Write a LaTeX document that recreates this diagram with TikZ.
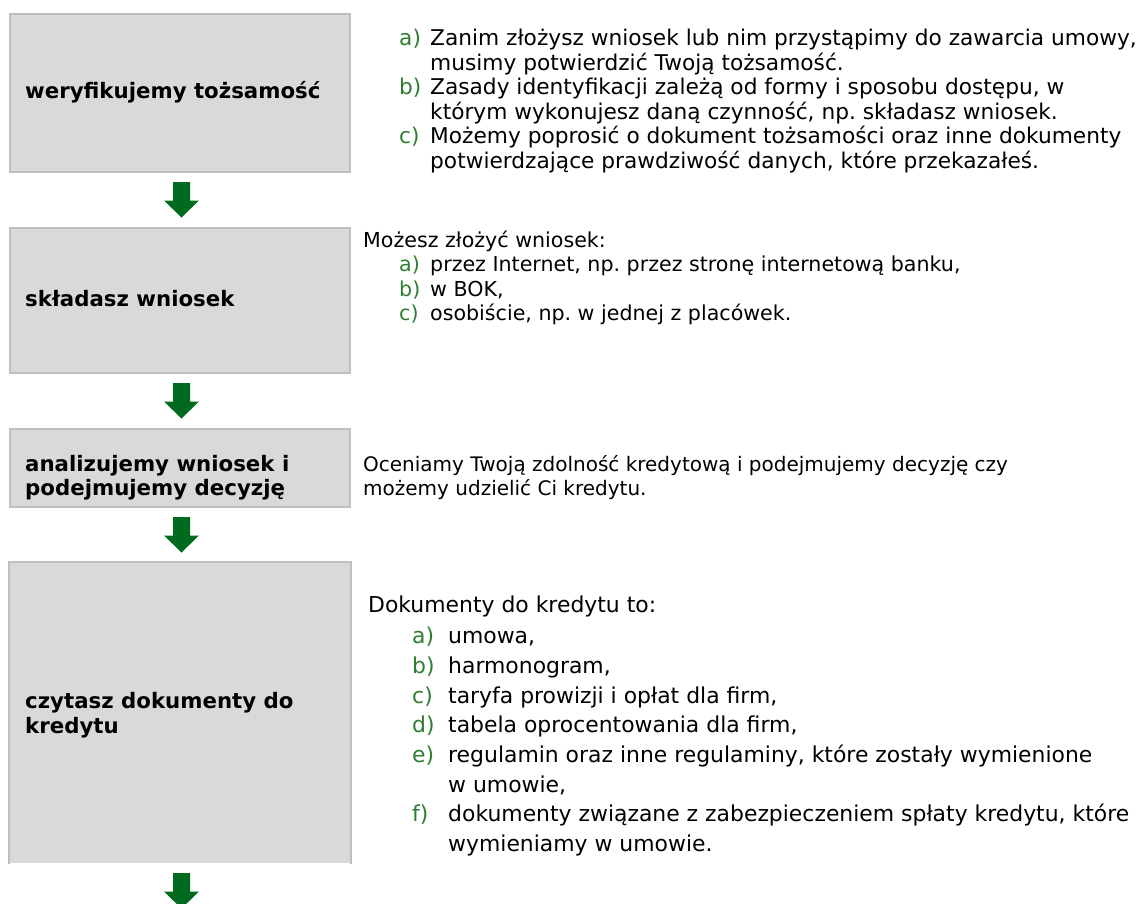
\documentclass[tikz,border=0pt]{standalone}
\usepackage{fontspec}
\setmainfont{DejaVu Sans}
\usetikzlibrary{calc}
\definecolor{boxfill}{HTML}{D9D9D9}
\definecolor{boxline}{HTML}{BFBFBF}
\definecolor{arrowgreen}{HTML}{006A1E}
\definecolor{labgreen}{HTML}{2E7D32}
\frenchspacing
\newcommand\txtline[4]{\node[txt] (#1) at (#2,#3) {#4};}
\newcommand\lab[4]{\node[lbl] (#1) at (#2,#3) {#4};}
\newcommand\greenarrow[2]{%
  \coordinate (#2) at ($(#1.south)+(1.5,9)$);
  \fill[arrowgreen] ($(#2)+(-8.5,0)$) -- ++(17,0) -- ++(0,18.5) -- ++(9,0)
    -- ($(#2)+(0,35.5)$) -- ($(#2)+(-17.5,18.5)$) -- ++(9,0) -- cycle;}
\begin{document}
\begin{tikzpicture}[x=1pt,y=-1pt,
  box/.style={fill=boxfill, draw=boxline, line width=2pt, anchor=north west,
    minimum width=340pt, inner sep=0pt},
  boxtxt/.style={anchor=base west, inner sep=0pt, font=\fontsize{21.3}{24.5}\selectfont\bfseries},
  txt/.style={anchor=base west, inner sep=0pt},
  lbl/.style={txt, text=labgreen},
  fa/.style={font=\fontsize{21.7}{24}\selectfont},
  fb/.style={font=\fontsize{20.6}{24}\selectfont},
  fc/.style={font=\fontsize{20}{24}\selectfont},
  fd/.style={font=\fontsize{21.9}{24}\selectfont}]
\useasboundingbox (0,0) rectangle (1145,903);
\clip (0,0) rectangle (1145,903);

% boxes
\node[box, minimum height=158pt] (b1) at (9,13) {};
\node[box, minimum height=145pt] (b2) at (9,227) {};
\node[box, minimum height=78pt] (b3) at (9,428) {};
\node[box, draw=none, minimum height=300pt] (b4) at (9,562) {};
\draw[boxline, line width=2pt] (b4.south west) -- (b4.north west) -- (b4.north east) -- (b4.south east);

\node[boxtxt] (b1t) at (25,98) {weryfikujemy tożsamość};
\node[boxtxt] (b2t) at (25,306) {składasz wniosek};
\node[boxtxt] (b3t) at (25,471) {analizujemy wniosek i};
\node[boxtxt] (b3t2) at (25,495) {podejmujemy decyzję};
\node[boxtxt] (b4t) at (25,708) {czytasz dokumenty do};
\node[boxtxt] (b4t2) at (25,733) {kredytu};

% arrows
\greenarrow{b1}{a1}
\greenarrow{b2}{a2}
\greenarrow{b3}{a3}
\greenarrow{b4}{a4}

% block 1
\begin{scope}[every node/.append style={fa}]
\lab{l1a}{399}{45.5}{a)}
\txtline{t1a}{430}{45.5}{Zanim złożysz wniosek lub nim przystąpimy do zawarcia umowy,}
\txtline{t1a2}{430}{70}{musimy potwierdzić Twoją tożsamość.}
\lab{l1b}{399}{94.5}{b)}
\txtline{t1b}{430}{94.5}{Zasady identyfikacji zależą od formy i sposobu dostępu, w}
\txtline{t1b2}{430}{119}{którym wykonujesz daną czynność, np. składasz wniosek.}
\lab{l1c}{399}{143.5}{c)}
\txtline{t1c}{430}{143.5}{Możemy poprosić o dokument tożsamości oraz inne dokumenty}
\txtline{t1c2}{430}{168}{potwierdzające prawdziwość danych, które przekazałeś.}
\end{scope}

% block 2
\begin{scope}[every node/.append style={fb}]
\txtline{t2}{363}{247}{Możesz złożyć wniosek:}
\lab{l2a}{399}{271.5}{a)}
\txtline{t2a}{430}{271.5}{przez Internet, np. przez stronę internetową banku,}
\lab{l2b}{399}{296}{b)}
\txtline{t2b}{430}{296}{w BOK,}
\lab{l2c}{399}{320.5}{c)}
\txtline{t2c}{430}{320.5}{osobiście, np. w jednej z placówek.}
\end{scope}

% block 3
\begin{scope}[every node/.append style={fc}]
\txtline{t3a}{363}{471}{Oceniamy Twoją zdolność kredytową i podejmujemy decyzję czy}
\txtline{t3b}{363}{495.5}{możemy udzielić Ci kredytu.}
\end{scope}

% block 4
\begin{scope}[every node/.append style={fd}]
\txtline{t4}{368}{612}{Dokumenty do kredytu to:}
\lab{l4a}{412}{643}{a)}
\txtline{t4a}{448}{643}{umowa,}
\lab{l4b}{412}{673}{b)}
\txtline{t4b}{448}{673}{harmonogram,}
\lab{l4c}{412}{703}{c)}
\txtline{t4c}{448}{703}{taryfa prowizji i opłat dla firm,}
\lab{l4d}{412}{732}{d)}
\txtline{t4d}{448}{732}{tabela oprocentowania dla firm,}
\lab{l4e}{412}{762}{e)}
\txtline{t4e}{448}{762}{regulamin oraz inne regulaminy, które zostały wymienione}
\txtline{t4e2}{448}{792}{w umowie,}
\lab{l4f}{412}{821}{f)}
\txtline{t4f}{448}{821}{dokumenty związane z zabezpieczeniem spłaty kredytu, które}
\txtline{t4f2}{448}{851}{wymieniamy w umowie.}
\end{scope}
\end{tikzpicture}
\end{document}
